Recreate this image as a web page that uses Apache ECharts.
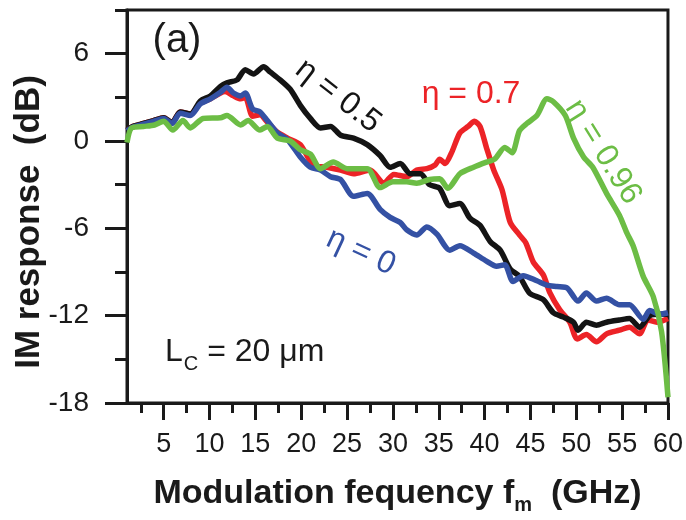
<!DOCTYPE html>
<html>
<head>
<meta charset="utf-8">
<script src="https://cdn.jsdelivr.net/npm/echarts@6/dist/echarts.min.js"></script>
<style>
html,body{margin:0;padding:0;background:#fff;}
#chart{width:686px;height:520px;}
</style>
</head>
<body>
<div id="chart"></div>
<script>
// ---- Data ----
const xMajorTicks = [5,10,15,20,25,30,35,40,45,50,55,60];
const xMinorTicks = [2.5,7.5,12.5,17.5,22.5,27.5,32.5,37.5,42.5,47.5,52.5,57.5];
const yMajorTicks = [-18,-12,-6,0,6];
const yMinorTicks = [-15,-9,-3,3,9];

const blueF = [1.0,1.6,2.5,3.9,5,5.9,6.8,7.9,9,10.1,11.2,11.9,12.6,13.4,13.9,14.7,15.5,16.3,17.4,18.5,19.9,21,22.1,23.2,24.3,25.7,27.2,28.6,29.7,30.8,31.5,32.6,33.7,34.8,36.2,37.3,38.8,40.2,41.3,42.2,43.1,44.2,45.7,46.8,47.9,49,50.2,51.1,52.2,53.3,54.7,55.8,57.3,58,59.1,60];
const blueV = [0.7,0.95,1.1,1.35,1.55,1.2,1.9,1.75,2.55,2.9,3.35,3.7,3.3,3.1,3.3,2.2,2.0,1.4,0.55,0.1,-1.1,-1.8,-2.0,-2.45,-2.65,-3.8,-3.6,-4.7,-5.25,-5.6,-6.1,-6.45,-5.9,-6.4,-7.5,-7.2,-7.7,-8.25,-8.6,-8.5,-9.65,-9.25,-9.6,-9.9,-10.0,-10.1,-11.0,-10.45,-11.0,-10.8,-11.25,-11.25,-12.25,-11.65,-11.9,-11.8];

const redF = [1.0,1.6,2.5,3.9,5,5.9,6.8,7.9,9,10.1,11.2,11.7,12.6,13.4,13.9,14.7,15.5,16.3,17.4,18.5,19.9,21.3,22.8,24.3,25.7,27.5,29,30.1,31.5,32.6,33.7,34.6,35.1,35.7,36.4,37.3,38.2,38.9,39.5,40.2,41,41.9,42.8,43.8,44.5,45.3,46.4,47.1,48.2,49.3,50.1,51.1,52.2,53.3,54.7,55.8,56.9,57.8,58.8,60];
const redV = [0.75,1.0,1.15,1.4,1.6,1.25,2.0,1.85,2.6,2.9,3.3,3.4,3.1,2.9,3.0,1.7,1.8,1.3,0.6,0.2,-0.25,-1.65,-1.8,-2.0,-2.25,-2.0,-2.9,-2.3,-2.45,-2.0,-1.9,-1.65,-1.25,-1.55,-0.8,0.55,1.0,1.35,1.0,-0.45,-2.0,-3.35,-5.6,-6.45,-7.0,-8.3,-9.2,-10.4,-11.6,-12.45,-13.6,-13.3,-13.8,-13.25,-13.0,-12.8,-13.25,-12.3,-12.45,-12.2];

const blackF = [1.0,1.6,2.5,3.9,5,5.9,6.8,7.9,9,10.1,11.2,11.9,13.0,13.9,14.8,15.9,16.6,17.7,18.8,19.9,21,22.1,23.2,24.3,25.7,27.2,28.6,29.7,30.8,31.9,33,34,35.1,36.2,37.3,38.4,39.5,40.6,41.7,42.8,43.8,44.9,46.4,47.5,48.6,49.7,50.2,51.1,52.2,53.3,54.7,55.8,56.9,58,59.1,60];
const blackV = [0.75,1.0,1.15,1.4,1.6,1.25,2.0,1.85,2.75,3.1,3.75,4.0,4.2,4.9,4.6,5.1,4.75,4.2,3.55,2.45,1.55,0.9,1.0,0.4,0.2,-0.25,-1.0,-1.8,-1.55,-2.25,-2.25,-3.0,-3.25,-4.45,-4.3,-5.3,-5.8,-6.9,-7.5,-8.8,-9.3,-10.45,-10.9,-11.8,-12.1,-12.45,-13.0,-12.45,-12.65,-12.45,-12.3,-12.2,-12.8,-12.0,-11.9,-11.9];

const greenF = [1.0,1.5,2.8,4,5,6,7.1,7.9,9.3,11.2,11.9,13.4,14.2,15.5,16.3,17.4,18.8,19.9,21,22.1,23.5,25,27.2,28.6,30,31.5,32.6,34,35.1,36.0,37.3,38.8,40.2,41.1,42.2,43,43.8,44.6,45.7,46.8,47.5,48.8,49.7,50.8,51.8,53.3,54.7,55.5,56.2,57.3,58.4,59.3,60];
const greenV = [-0.1,0.9,1.0,1.1,1.35,0.75,1.4,0.9,1.55,1.6,1.75,1.1,1.4,0.75,1.0,0.2,0,-0.6,-0.9,-1.9,-1.45,-1.9,-1.9,-3.2,-2.8,-2.8,-2.9,-2.65,-2.6,-3.25,-2.25,-1.8,-1.45,-1.25,-0.45,-0.8,0.7,1.2,1.75,2.9,2.7,1.75,0.2,-1.1,-1.8,-3.6,-5.1,-6.3,-7.2,-9.3,-10.7,-13.1,-17.6];

function pairs(f, v){ return f.map((x,i)=>[x, v[i]]); }

const chart = echarts.init(document.getElementById('chart'), null, {renderer:'canvas'});
const FONT = 'Liberation Sans, Arial, sans-serif';
const AX = '#1a1a1a';
const LW = 5.5;

const option = {
  backgroundColor: '#ffffff',
  animation: false,
  grid: {left:127, right:18, top:10, bottom:109, show:true, borderColor:AX, borderWidth:3, backgroundColor:'transparent'},
  xAxis: [
    {
      type:'value', min:1, max:60,
      axisLine:{show:true, onZero:false, lineStyle:{color:AX, width:3}},
      axisTick:{show:true, inside:false, length:17, lineStyle:{color:AX, width:3}, customValues:xMajorTicks},
      axisLabel:{show:true, customValues:xMajorTicks, margin:28, color:'#1a1a1a', fontSize:27, fontFamily:FONT},
      splitLine:{show:false},
      name:'{b|Modulation fequency f}{m|m}{b|  (GHz)}',
      nameLocation:'middle', nameGap:70,
      nameTextStyle:{rich:{
        b:{fontSize:34, fontWeight:'bold', fontFamily:FONT, color:'#1a1a1a'},
        m:{fontSize:20, fontWeight:'bold', fontFamily:FONT, color:'#1a1a1a', padding:[22,0,0,0]}
      }}
    },
    {
      type:'value', min:1, max:60, position:'bottom',
      axisLine:{show:false, onZero:false},
      axisTick:{show:true, inside:false, length:10, lineStyle:{color:AX, width:3}, customValues:xMinorTicks},
      axisLabel:{show:false},
      splitLine:{show:false}
    }
  ],
  yAxis: [
    {
      type:'value', min:-18, max:9,
      axisLine:{show:true, onZero:false, lineStyle:{color:AX, width:3}},
      axisTick:{show:true, inside:false, length:22, lineStyle:{color:AX, width:3}, customValues:yMajorTicks},
      axisLabel:{show:true, customValues:yMajorTicks, margin:38, color:'#1a1a1a', fontSize:28, fontFamily:FONT},
      splitLine:{show:false}
    },
    {
      type:'value', min:-18, max:9, position:'left',
      axisLine:{show:false, onZero:false},
      axisTick:{show:true, inside:false, length:12, lineStyle:{color:AX, width:3}, customValues:yMinorTicks},
      axisLabel:{show:false},
      splitLine:{show:false}
    }
  ],
  series: [
    {name:'η = 0.7', type:'line', data:pairs(redF, redV), showSymbol:false, smooth:0.25, lineStyle:{color:'#ec2327', width:LW}, itemStyle:{color:'#ec2327'}, z:3},
    {name:'η = 0.5', type:'line', data:pairs(blackF, blackV), showSymbol:false, smooth:0.25, lineStyle:{color:'#141414', width:LW}, itemStyle:{color:'#141414'}, z:4},
    {name:'η = 0', type:'line', data:pairs(blueF, blueV), showSymbol:false, smooth:0.25, lineStyle:{color:'#3451a4', width:LW}, itemStyle:{color:'#3451a4'}, z:5},
    {name:'η = 0.96', type:'line', data:pairs(greenF, greenV), showSymbol:false, smooth:0.25, lineStyle:{color:'#6cbd45', width:LW}, itemStyle:{color:'#6cbd45'}, z:6}
  ],
  graphic: [
    {type:'text', x:29, y:222, rotation:Math.PI/2, style:{text:'IM response  (dB)', font:'bold 35px '+FONT, fill:'#1a1a1a', align:'center', verticalAlign:'middle', textAlign:'center', textVerticalAlign:'middle'}},
    {type:'text', x:177, y:41, style:{text:'(a)', font:'40px '+FONT, fill:'#1a1a1a', align:'center', verticalAlign:'middle', textAlign:'center', textVerticalAlign:'middle'}},
    {type:'text', x:338, y:96, rotation:-38*Math.PI/180, style:{text:'η = 0.5', font:'32px '+FONT, fill:'#141414', align:'center', verticalAlign:'middle', textAlign:'center', textVerticalAlign:'middle'}},
    {type:'text', x:471, y:94, style:{text:'η = 0.7', font:'32px '+FONT, fill:'#ec2327', align:'center', verticalAlign:'middle', textAlign:'center', textVerticalAlign:'middle'}},
    {type:'text', x:603, y:152, rotation:-58*Math.PI/180, style:{text:'η = 0.96', font:'32px '+FONT, fill:'#6cbd45', align:'center', verticalAlign:'middle', textAlign:'center', textVerticalAlign:'middle'}},
    {type:'text', x:361, y:252, rotation:-25*Math.PI/180, style:{text:'η = 0', font:'32px '+FONT, fill:'#3451a4', align:'center', verticalAlign:'middle', textAlign:'center', textVerticalAlign:'middle'}},
    {type:'text', x:165, y:352, style:{text:'{a|L}{s|C}{a| = 20 μm}', font:'32px '+FONT, fill:'#1a1a1a', align:'left', verticalAlign:'middle', textAlign:'left', textVerticalAlign:'middle',
      rich:{a:{fontSize:32, fontFamily:FONT, color:'#1a1a1a'}, s:{fontSize:20, fontFamily:FONT, color:'#1a1a1a', padding:[24,0,0,1]}}}}
  ]
};
chart.setOption(option);
</script>
</body>
</html>
